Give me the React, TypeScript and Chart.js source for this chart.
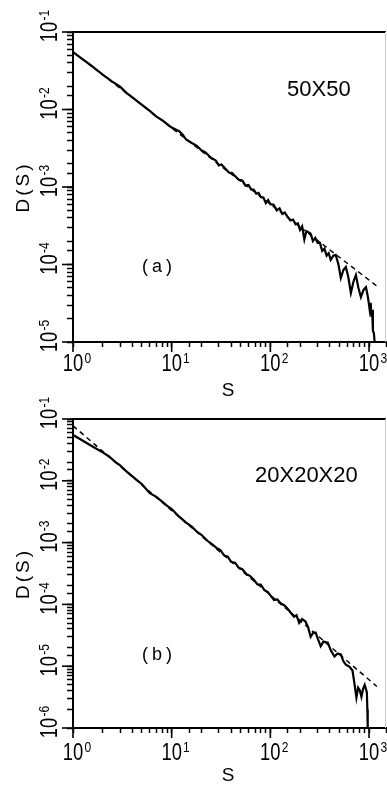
import React, { useEffect, useRef } from "react";
import { Chart, registerables } from "chart.js";

Chart.register(...registerables);

// ---------- data ----------
// Panel (a): 50X50
const aSizes = [
  1, 1.2, 1.5, 2, 2.5, 3, 3.5, 4, 5, 6, 7, 8, 9, 10, 12, 13, 14, 16, 18, 20, 22, 25, 28, 30, 32, 35, 38, 41, 44,
  48, 52, 56, 60, 64, 68, 72, 76, 80, 85, 90, 95, 100, 108, 116, 124, 132, 140, 150, 160, 170, 180, 190, 200,
  210, 221, 232, 245, 256, 270, 285, 302, 318, 335, 353, 372, 390, 409, 435, 460, 490, 518, 550, 582, 615, 655,
  695, 736, 780, 828, 880, 931, 975, 1016, 1040, 1058, 1075, 1095, 1120, 1140,
];
const aDist = [
  0.0552, 0.0462, 0.0376, 0.0281, 0.0229, 0.0197, 0.0163, 0.0143, 0.0115, 0.00962, 0.0081, 0.00728, 0.00649,
  0.00585, 0.0052, 0.0047, 0.0041, 0.0037, 0.0034, 0.00298, 0.0028, 0.00239, 0.0022, 0.0019, 0.00195, 0.00172,
  0.00154, 0.00151, 0.00138, 0.00124, 0.00121, 0.00104, 0.00106, 0.00093, 0.00092, 0.00082, 0.00084, 0.00074,
  0.00073, 0.00062, 0.00068, 0.0006, 0.00059, 0.0005, 0.00053, 0.00045, 0.00047, 0.00041, 0.00037, 0.00038,
  0.00033, 0.00034, 0.00028, 0.00031, 0.00021, 0.00027, 0.00026, 0.00025, 0.0002, 0.00022, 0.00019, 0.00019,
  0.00015, 0.00016, 0.00013, 0.00014, 0.000115, 0.00013, 0.000133, 0.0001, 0.000067, 0.000085, 0.000093, 0.00007,
  0.000043, 0.00006, 0.000073, 0.00005, 0.000038, 0.000047, 0.000051, 0.000038, 0.000026, 0.000032, 0.000021,
  0.000026, 0.000014, 0.000013, 0.00001,
];
const aFitSizes = [1, 1240];
const aFitDist = [0.0552, 0.000051];

// Panel (b): 20X20X20
const bSizes = [
  1, 1.2, 1.5, 2, 2.3, 2.7, 3, 3.5, 4, 5, 6, 7, 8, 9, 10, 11, 12, 14, 16, 18, 20, 23, 26, 29, 31, 34, 37, 40, 44,
  48, 52, 57, 62, 68, 74, 80, 87, 94, 100, 109, 118, 128, 138, 149, 160, 174, 184, 196, 210, 227, 242, 256, 272,
  288, 305, 324, 345, 382, 410, 447, 480, 518, 550, 582, 636, 680, 715, 745, 775, 805, 838, 870, 904, 950, 962, 970,
];
const bDist = [
  0.0551, 0.0465, 0.0377, 0.0288, 0.025, 0.0201, 0.0178, 0.0141, 0.01178, 0.0088, 0.0063, 0.00551, 0.00459,
  0.00392, 0.0035, 0.00298, 0.0026, 0.0021, 0.00182, 0.0015, 0.00134, 0.00107, 0.00093, 0.0008, 0.00076, 0.00062,
  0.00059, 0.00049, 0.00047, 0.00039, 0.00037, 0.00031, 0.00029, 0.00025, 0.00021, 0.00021, 0.00017, 0.00016,
  0.00014, 0.000118, 0.00012, 0.000103, 0.000097, 0.000086, 0.000074, 0.000063, 0.000067, 0.00005, 0.000058,
  0.000053, 0.000042, 0.00003, 0.000035, 0.000035, 0.000027, 0.000021, 0.000025, 0.000024, 0.000018, 0.0000143,
  0.000016, 0.0000155, 0.000012, 0.0000106, 0.0000098, 0.0000085, 0.000005, 0.0000031, 0.0000045, 0.0000041,
  0.0000032, 0.0000043, 0.000005, 0.0000038, 0.000002, 0.000001,
];
const bFitSizes = [1, 1200];
const bFitDist = [0.0776, 0.0000047];

// axes / ticks
const xMin = 1;
const xMax = 1486;
const xDecades = [1, 10, 100, 1000];
const xExps = ["0", "1", "2", "3"];
const aYDecades = [0.1, 0.01, 0.001, 0.0001, 0.00001];
const aYExps = ["-1", "-2", "-3", "-4", "-5"];
const bYDecades = [0.1, 0.01, 0.001, 0.0001, 0.00001, 0.000001];
const bYExps = ["-1", "-2", "-3", "-4", "-5", "-6"];

const NARROW = '"Liberation Sans Narrow", "Liberation Sans", "DejaVu Sans", sans-serif';
const SANS = '"Liberation Sans", "DejaVu Sans", sans-serif';

type PanelProps = {
  top: number;
  height: number;
  padTop: number;
  plotBottom: number;
  sizes: number[];
  dist: number[];
  fitSizes: number[];
  fitDist: number[];
  yMin: number;
  yDecades: number[];
  yExps: string[];
  label: string;
  labelX: number;
  labelY: number;
  tag: string;
  tagX: number;
  tagY: number;
  xLabelBase: number;
};

const SQ = 0.8; // horizontal squeeze of tick label glyphs

function Panel(p: PanelProps) {
  const ref = useRef<HTMLCanvasElement | null>(null);
  useEffect(() => {
    const canvas = ref.current;
    if (!canvas) return;
    const deco = {
      id: "deco",
      beforeDraw(chart: any) {
        chart.ctx.letterSpacing = "3px";
      },
      afterDraw(chart: any) {
        const ctx: CanvasRenderingContext2D = chart.ctx;
        const xs = chart.scales.x;
        const ys = chart.scales.y;
        const a = chart.chartArea;
        ctx.save();
        (ctx as any).letterSpacing = "0px";
        ctx.fillStyle = "#000";
        // top frame
        ctx.strokeStyle = "#000";
        ctx.lineWidth = 2;
        ctx.beginPath();
        ctx.moveTo(a.left, a.top);
        ctx.lineTo(a.right, a.top);
        ctx.stroke();
        // faint right frame
        ctx.strokeStyle = "#cfcfcf";
        ctx.lineWidth = 1;
        ctx.beginPath();
        ctx.moveTo(a.right - 0.5, a.top);
        ctx.lineTo(a.right - 0.5, a.bottom);
        ctx.stroke();
        // major ticks
        ctx.strokeStyle = "#000";
        ctx.lineWidth = 1.6;
        for (const v of xDecades) {
          const px = xs.getPixelForValue(v);
          ctx.beginPath();
          ctx.moveTo(px, a.bottom);
          ctx.lineTo(px, a.bottom + 10);
          ctx.stroke();
        }
        for (const v of p.yDecades) {
          const py = ys.getPixelForValue(v);
          ctx.beginPath();
          ctx.moveTo(a.left, py);
          ctx.lineTo(a.left - 11, py);
          ctx.stroke();
        }
        const big = `23px ${NARROW}`;
        const small = `15px ${NARROW}`;
        const drawLabel = (exp: string) => {
          // draws "10" centred on the origin (baseline at 0) with a superscript exponent
          ctx.save();
          ctx.scale(SQ, 1);
          ctx.font = big;
          ctx.textAlign = "center";
          ctx.textBaseline = "alphabetic";
          const w = ctx.measureText("10").width;
          ctx.fillText("10", 0, 0);
          ctx.font = small;
          ctx.textAlign = "left";
          ctx.fillText(exp, w / 2 + 1.5, -8);
          ctx.restore();
        };
        // x tick labels
        xDecades.forEach((v, i) => {
          const px = xs.getPixelForValue(v);
          ctx.save();
          ctx.translate(px, a.bottom + p.xLabelBase);
          drawLabel(xExps[i]);
          ctx.restore();
        });
        // y tick labels (rotated)
        p.yDecades.forEach((v, i) => {
          const py = ys.getPixelForValue(v);
          ctx.save();
          ctx.translate(57, py);
          ctx.rotate(-Math.PI / 2);
          drawLabel(p.yExps[i]);
          ctx.restore();
        });
        // annotations
        ctx.font = `22px ${SANS}`;
        ctx.textAlign = "left";
        ctx.textBaseline = "alphabetic";
        ctx.fillText(p.label, p.labelX, p.labelY);
        ctx.font = `18px ${SANS}`;
        (ctx as any).letterSpacing = "4px";
        ctx.textAlign = "center";
        ctx.fillText(p.tag, p.tagX, p.tagY);
        ctx.restore();
      },
    };

    const chart = new Chart(canvas, {
      type: "line",
      data: {
        datasets: [
          {
            data: p.sizes.map((s, i) => ({ x: s, y: p.dist[i] })),
            borderColor: "#000",
            borderWidth: 2.2,
            pointRadius: 0,
            tension: 0,
            fill: false,
          },
          {
            data: p.fitSizes.map((s, i) => ({ x: s, y: p.fitDist[i] })),
            borderColor: "#000",
            borderWidth: 1.5,
            borderDash: [5, 4],
            pointRadius: 0,
            tension: 0,
            fill: false,
          },
        ],
      },
      options: {
        animation: false,
        responsive: false,
        devicePixelRatio: 1,
        layout: { padding: { top: p.padTop, right: 1, left: 0, bottom: 0 } },
        plugins: { legend: { display: false }, tooltip: { enabled: false } },
        scales: {
          x: {
            type: "logarithmic",
            min: xMin,
            max: xMax,
            afterFit: (s: any) => {
              s.height = p.height - p.plotBottom;
            },
            grid: {
              display: true,
              drawOnChartArea: false,
              drawTicks: true,
              tickLength: 5,
              tickColor: "#000",
              tickWidth: 1.5,
              color: "#000",
            },
            border: { display: true, color: "#000", width: 2 },
            ticks: { display: false, autoSkip: false },
            title: {
              display: true,
              text: "S",
              color: "#000",
              font: { family: SANS, size: 19, lineHeight: 1 },
              padding: { top: 0, bottom: 0 },
            },
          },
          y: {
            type: "logarithmic",
            min: p.yMin,
            max: 0.1,
            afterFit: (s: any) => {
              s.width = 73;
            },
            grid: {
              display: true,
              drawOnChartArea: false,
              drawTicks: true,
              tickLength: 6,
              tickColor: "#000",
              tickWidth: 1.5,
              color: "#000",
            },
            border: { display: true, color: "#000", width: 2 },
            ticks: { display: false, autoSkip: false },
            title: {
              display: true,
              text: "D(S)",
              color: "#000",
              font: { family: SANS, size: 19, lineHeight: 1 },
              padding: { top: 14, bottom: 0 },
            },
          },
        },
      },
      plugins: [deco],
    } as any);
    return () => chart.destroy();
  }, []);
  return (
    <canvas
      ref={ref}
      width={387}
      height={p.height}
      style={{ position: "absolute", left: 0, top: p.top, width: 387, height: p.height }}
    />
  );
}

export default function App() {
  return (
    <div
      style={{
        position: "fixed",
        left: 0,
        top: 0,
        width: 387,
        height: 785,
        overflow: "hidden",
        background: "#fff",
      }}
    >
      <Panel
        top={0}
        height={400}
        padTop={32}
        plotBottom={342}
        sizes={aSizes}
        dist={aDist}
        fitSizes={aFitSizes}
        fitDist={aFitDist}
        yMin={0.00001}
        yDecades={aYDecades}
        yExps={aYExps}
        label="50X50"
        labelX={287}
        labelY={96}
        tag="(a)"
        tagX={159}
        tagY={272}
        xLabelBase={29}
      />
      <Panel
        top={390}
        height={395}
        padTop={29}
        plotBottom={338}
        sizes={bSizes}
        dist={bDist}
        fitSizes={bFitSizes}
        fitDist={bFitDist}
        yMin={0.000001}
        yDecades={bYDecades}
        yExps={bYExps}
        label="20X20X20"
        labelX={255}
        labelY={92}
        tag="(b)"
        tagX={159}
        tagY={270}
        xLabelBase={32}
      />
    </div>
  );
}
